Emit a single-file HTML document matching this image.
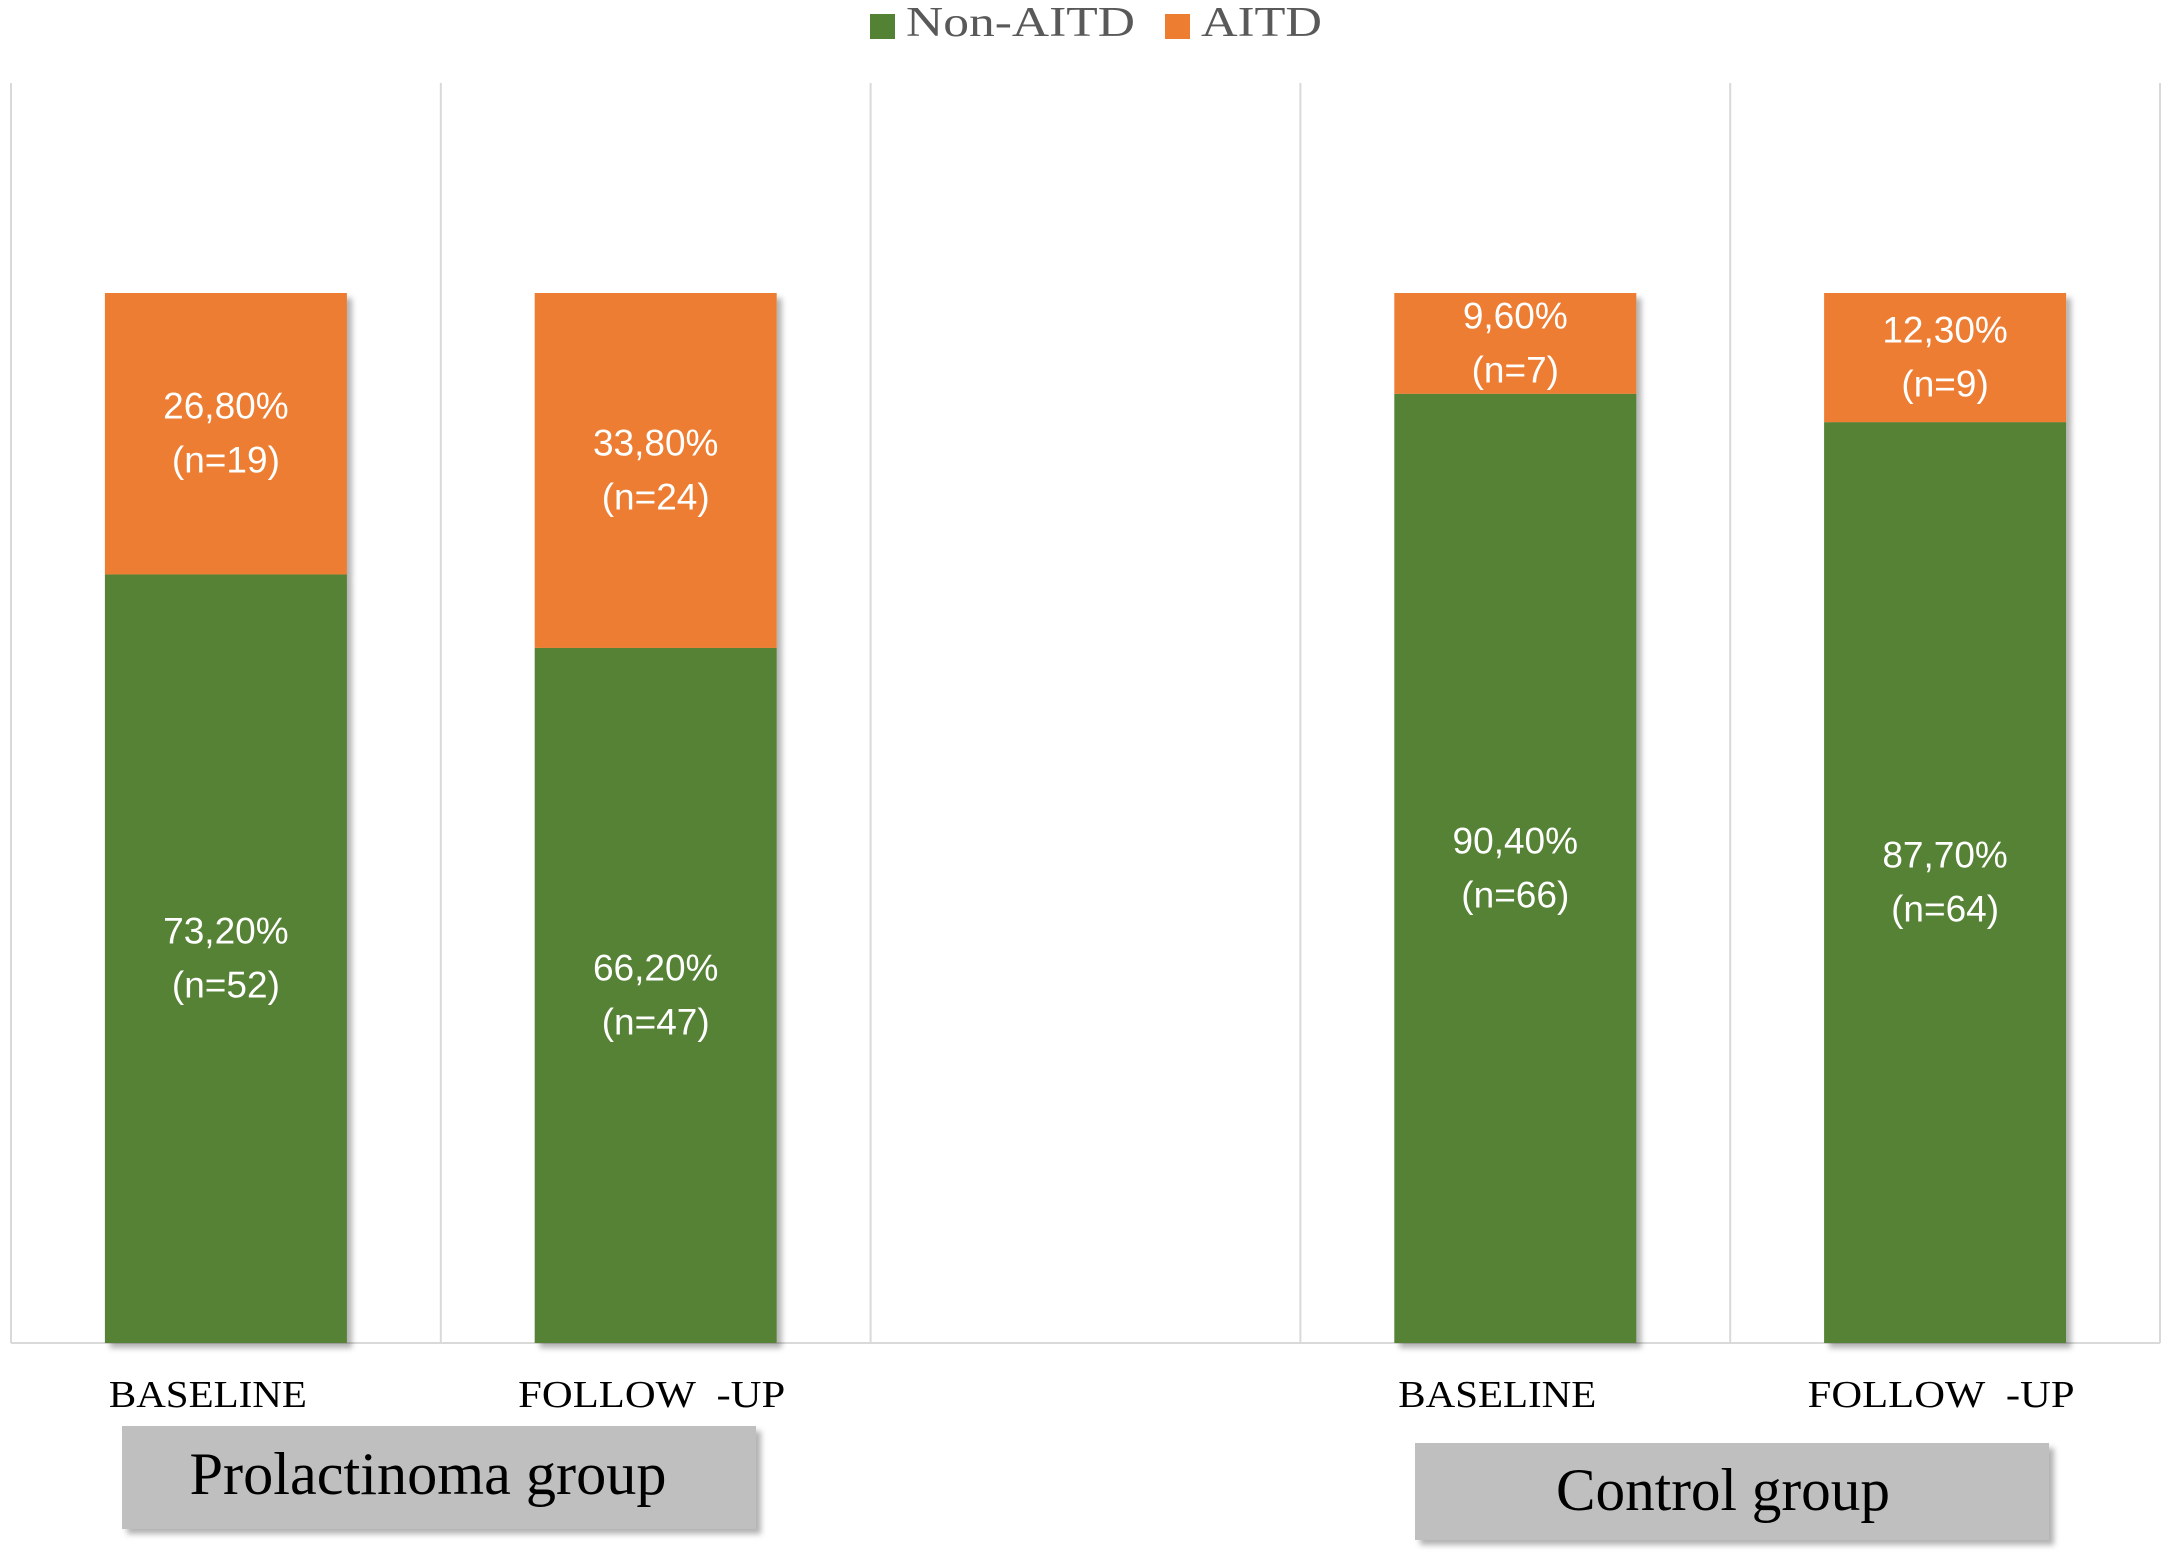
<!DOCTYPE html>
<html><head><meta charset="utf-8"><style>
body{margin:0;background:#fff;}
svg{display:block;}
</style></head><body>
<svg width="2175" height="1564" viewBox="0 0 2175 1564" id="chart">
<defs>
<filter id="sh" x="-10%" y="-10%" width="130%" height="130%"><feDropShadow dx="5" dy="5" stdDeviation="3" flood-color="#000" flood-opacity="0.3"/></filter>
</defs>
<g id="grid"></g>
<g id="bars"></g>
<g id="labels"></g>
<g id="cats"></g>
<g>
<rect x="870" y="14" width="25" height="25" fill="#548235"/>
<text x="906" y="36" font-family="Liberation Serif, serif" font-size="42" fill="#595959" textLength="229" lengthAdjust="spacingAndGlyphs">Non-AITD</text>
<rect x="1165" y="14" width="25" height="25" fill="#ED7D31"/>
<text x="1201" y="36" font-family="Liberation Serif, serif" font-size="42" fill="#595959" textLength="121" lengthAdjust="spacingAndGlyphs">AITD</text>
</g>
<g>
<rect x="122" y="1426" width="634" height="103" fill="#bfbfbf" filter="url(#sh)"/>
<text x="428" y="1494" text-anchor="middle" font-family="Liberation Serif, serif" font-size="60" fill="#000" textLength="477" lengthAdjust="spacingAndGlyphs">Prolactinoma group</text>
</g>
<g>
<rect x="1415" y="1443" width="634" height="97" fill="#bfbfbf" filter="url(#sh)"/>
<text x="1723" y="1510" text-anchor="middle" font-family="Liberation Serif, serif" font-size="60" fill="#000" textLength="334" lengthAdjust="spacingAndGlyphs">Control group</text>
</g>
</svg>
<script>
const categories = ["BASELINE", "FOLLOW  -UP", "", "BASELINE", "FOLLOW  -UP"];
const nonAitd = [73.2, 66.2, null, 90.4, 87.7];
const aitd = [26.8, 33.8, null, 9.6, 12.3];
const nonAitdN = [52, 47, null, 66, 64];
const aitdN = [19, 24, null, 7, 9];
const yMax = 120;
const NS = "http://www.w3.org/2000/svg";
const plotLeft = 11, plotRight = 2160, plotTop = 83, plotBottom = 1343;
const bandW = (plotRight - plotLeft) / categories.length;
const barW = 242;
function xCenter(i){ return plotLeft + bandW * (i + 0.5); }
function yPos(v){ return plotBottom - (v / yMax) * (plotBottom - plotTop); }
function mk(tag, attrs, parent){ const e = document.createElementNS(NS, tag); for (const k in attrs) e.setAttribute(k, attrs[k]); parent.appendChild(e); return e; }
const grid = document.getElementById('grid'), bars = document.getElementById('bars'), labels = document.getElementById('labels'), cats = document.getElementById('cats');
for (let i = 0; i <= categories.length; i++) {
  const gx = plotLeft + bandW * i;
  const l = mk('line', {x1: gx, x2: gx, y1: plotTop, y2: plotBottom, stroke: '#d9d9d9', 'stroke-width': 2}, grid);
  
  
}
const ax = mk('line', {x1: plotLeft, x2: plotRight, y1: plotBottom, y2: plotBottom, stroke: '#d9d9d9', 'stroke-width': 2}, grid);


function label(cx, cy, pct, n){
  const t1 = mk('text', {x: cx, y: cy - 15, 'text-anchor': 'middle', 'font-family': 'Liberation Sans Narrow, Liberation Sans, sans-serif', 'font-size': 37, fill: '#fff'}, labels);
  t1.textContent = pct.toFixed(2).replace('.', ',') + '%';
  
  
  const t2 = mk('text', {x: cx, y: cy + 39, 'text-anchor': 'middle', 'font-family': 'Liberation Sans Narrow, Liberation Sans, sans-serif', 'font-size': 37, fill: '#fff'}, labels);
  t2.textContent = '(n=' + n + ')';
  
  
}
categories.forEach((c, i) => {
  const cx = xCenter(i);
  if (nonAitd[i] != null) {
    const g = mk('g', {filter: 'url(#sh)'}, bars);
    const b1 = mk('rect', {x: cx - barW/2, y: yPos(nonAitd[i]), width: barW, height: plotBottom - yPos(nonAitd[i]), fill: '#548235'}, g);
    
    
    const b2 = mk('rect', {x: cx - barW/2, y: yPos(nonAitd[i] + aitd[i]), width: barW, height: yPos(nonAitd[i]) - yPos(nonAitd[i] + aitd[i]), fill: '#ED7D31'}, g);
    
    
    label(cx, (yPos(nonAitd[i]) + plotBottom) / 2, nonAitd[i], nonAitdN[i]);
    label(cx, (yPos(nonAitd[i]) + yPos(nonAitd[i] + aitd[i])) / 2, aitd[i], aitdN[i]);
  }
  if (c) {
    const isBase = c.startsWith('B');
    const t = mk('text', {x: cx + (isBase ? -18 : -4), y: 1407, 'text-anchor': 'middle', 'font-family': 'Liberation Serif, serif', 'font-size': 38, fill: '#000', style: 'white-space:pre', textLength: isBase ? 198 : 267, lengthAdjust: 'spacingAndGlyphs'}, cats);
    t.textContent = c;
    
    
  }
});
</script>
</body></html>
